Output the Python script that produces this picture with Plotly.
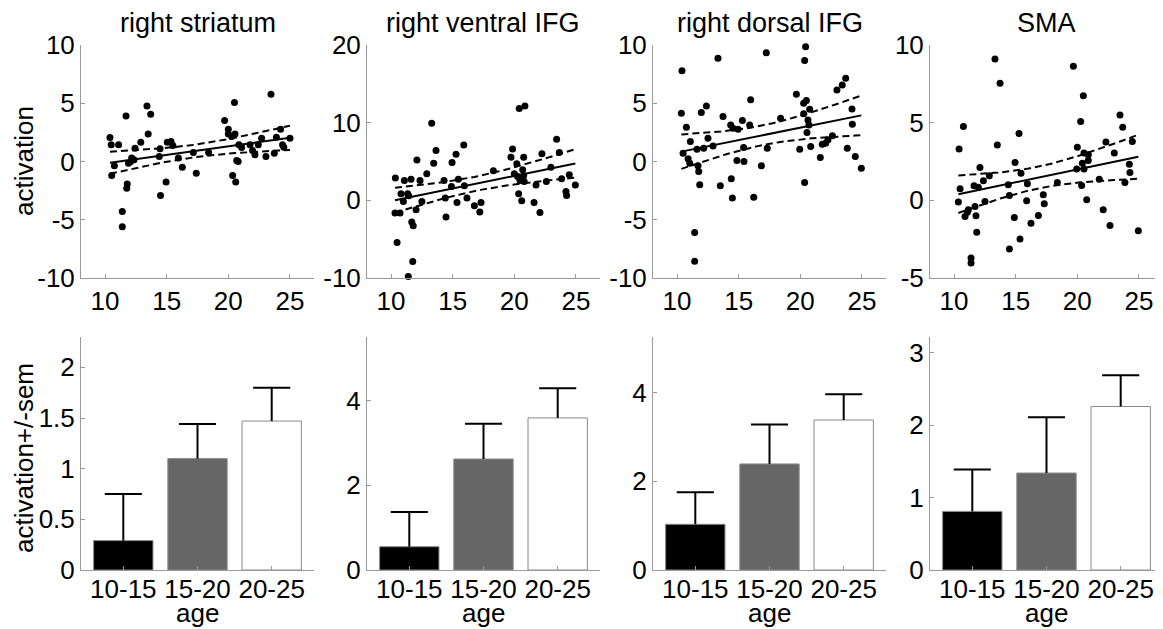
import numpy as np
import plotly.graph_objects as go

# page has an 8px body margin; the figure is sized so that it fills the window exactly
OFF = 8
W, H = 1163 - OFF, 629 - OFF

titles = ["right striatum", "right ventral IFG", "right dorsal IFG", "SMA"]

# ---------------- scatter data (age, activation) ----------------
striatum_age = [10.4, 10.5, 11.1, 10.54, 10.76, 11.7, 11.4, 11.4, 11.8, 11.76, 11.9, 12.16, 12.35, 12.43,
                12.9, 13.4, 13.7, 13.5, 14.4, 14.46, 14.5, 14.95, 15.05, 15.35, 15.5, 15.95, 16.27, 17.16,
                17.4, 18.4, 19.7, 20.0, 20.0, 20.27, 20.5, 20.54, 20.35, 20.6, 20.68, 20.8, 20.86, 21.08,
                21.76, 21.97, 22.16, 22.43, 22.7, 23.05, 23.46, 23.73, 23.9, 24.24, 24.4, 24.5, 25.0, 12.08]
striatum_act = [2.06, 1.43, 1.43, -1.2, -0.37, 3.9, -4.3, -5.6, -1.94, -2.29, -0.14, 0.29, 0.14, 1.14,
                1.66, 4.77, 4.06, 2.37, 0.43, 1.09, -2.91, -1.77, 1.66, 1.71, 1.37, 0.29, -0.49, 0.77,
                -1.0, 0.77, 3.51, 2.77, 2.37, 2.14, 5.06, 2.37, -1.2, -1.77, 0.09, 0.0, 1.43, 1.2,
                1.43, 0.94, 0.57, 1.43, 2.0, 0.43, 5.77, 0.71, 2.09, 2.77, 1.43, 1.23, 2.0, 0.0]

vifg_age = [10.35, 10.32, 10.49, 10.73, 10.81, 11.0, 11.08, 11.35, 11.43, 11.4, 11.62, 11.68, 11.8, 11.76,
            12.03, 12.1, 12.35, 12.5, 12.9, 13.3, 13.46, 13.65, 14.3, 14.4, 14.46, 14.9, 14.95, 15.27,
            15.35, 15.46, 15.9, 15.95, 16.16, 16.76, 17.2, 17.3, 18.3, 19.73, 19.86, 20.0, 20.2, 20.27,
            20.35, 20.4, 20.46, 20.6, 20.68, 20.76, 20.8, 20.86, 20.76, 21.6, 21.76, 22.08, 22.24, 22.6,
            22.97, 23.43, 23.65, 23.84, 24.19, 24.24, 24.46, 24.95]
vifg_act = [2.86, -1.64, -5.43, -1.64, 0.84, -0.14, 2.56, 0.84, 0.59, -9.8, 2.73, -2.8, -3.27, -7.87,
            -1.2, 5.2, 2.56, -0.14, 3.42, 9.93, 4.79, 6.42, 2.56, 0.29, -2.16, 1.79, 4.87, 5.94,
            -0.27, 2.73, 7.14, 1.88, 0.29, -0.7, -1.51, -0.27, 3.8, 5.56, 6.6, 3.42, 4.7, 3.07,
            0.84, 11.84, 2.56, -0.06, 3.93, 3.16, 2.43, 12.14, 5.54, -0.27, 1.99, -1.56, 5.99, 2.43,
            4.27, 7.87, 6.16, 2.77, 1.14, 0.63, 3.29, 1.99]

difg_age = [10.4, 10.35, 10.49, 10.76, 10.9, 11.03, 11.08, 11.43, 11.43, 11.62, 11.7, 11.76, 11.84, 11.97,
            12.16, 12.38, 12.51, 12.92, 13.32, 13.51, 13.73, 14.4, 14.35, 14.49, 14.54, 14.86, 14.95, 15.3,
            15.4, 15.43, 15.89, 15.97, 16.22, 16.84, 17.24, 17.32, 18.4, 19.68, 19.95, 20.27, 20.27, 20.35,
            20.35, 20.43, 20.49, 20.54, 20.62, 20.76, 20.7, 20.84, 21.62, 21.78, 22.05, 22.24, 22.6, 22.97,
            23.4, 23.68, 23.81, 24.19, 24.22, 24.46, 24.95]
difg_act = [7.8, 4.14, 0.71, 2.94, 0.23, -0.14, 1.71, -6.09, -8.57, 1.06, -0.37, -0.86, -2.0, 4.2,
            1.14, 4.77, 2.0, 1.34, 8.86, -2.09, 3.86, -1.49, 3.14, -3.14, 2.86, 0.09, 2.77, 3.51,
            1.2, 0.0, 3.14, 5.29, -3.06, -0.37, 9.34, 1.14, 3.71, 5.77, 1.06, 4.09, 5.0, -1.8,
            8.66, 9.86, 5.23, 2.49, 3.57, 4.49, 3.14, 1.29, 0.34, 1.49, 1.57, 1.86, 2.2, 6.14,
            6.57, 7.14, 1.14, 4.51, 3.2, 0.43, -0.57]

sma_age = [10.41, 10.35, 10.49, 10.76, 10.89, 11.08, 11.16, 11.38, 11.38, 11.62, 11.78, 11.84, 11.7, 11.97,
           12.1, 12.38, 12.51, 12.86, 13.32, 13.51, 13.73, 14.4, 14.49, 14.49, 14.89, 14.95, 15.27, 15.35,
           15.43, 15.89, 15.95, 16.24, 16.84, 17.24, 17.32, 18.38, 19.68, 19.95, 20.0, 20.27, 20.35, 20.41,
           20.49, 20.54, 20.54, 20.76, 20.89, 20.89, 21.78, 22.1, 22.32, 22.65, 23.0, 23.46, 23.68, 23.86,
           24.22, 24.27, 24.46, 24.95]
sma_act = [3.31, -0.11, 0.74, 4.75, -1.04, -0.76, -0.61, -3.72, -4.04, 0.94, -0.99, -2.06, -0.39, 0.85,
           2.11, 1.26, -0.07, 1.58, 9.1, 3.57, 7.53, 1.0, -3.14, 0.31, -1.1, 2.43, 4.3, -2.49,
           1.75, -0.03, 1.07, -1.47, -0.97, 0.36, -0.22, 1.15, 8.63, 2.01, 3.42, 5.07, 0.96, 2.39,
           6.74, 2.01, 3.04, 0.04, 2.93, 2.56, 1.36, -0.61, 3.75, -1.62, 3.04, 5.5, 4.71, 1.15,
           2.33, 1.79, 3.78, -1.96]

scatter_sets = [(striatum_age, striatum_act), (vifg_age, vifg_act),
                (difg_age, difg_act), (sma_age, sma_act)]
scatter_yticks = [[-10, -5, 0, 5, 10], [-10, 0, 10, 20], [-10, -5, 0, 5, 10], [-5, 0, 5, 10]]
scatter_yrange = [[-10, 10], [-10, 20], [-10, 10], [-5, 10]]
scatter_xticks = [10, 15, 20, 25]
T_CRIT = 2.0

# ---------------- bar data ----------------
age_groups = ["10-15", "15-20", "20-25"]
bar_means = [[0.29, 1.10, 1.47], [0.55, 2.62, 3.59], [1.03, 2.39, 3.38], [0.81, 1.34, 2.26]]
bar_tops = [[0.75, 1.44, 1.80], [1.37, 3.45, 4.29], [1.75, 3.28, 3.96], [1.39, 2.11, 2.69]]
bar_yticks = [[0, 0.5, 1, 1.5, 2], [0, 2, 4], [0, 2, 4], [0, 1, 2, 3]]
bar_ytext = [["0", "0.5", "1", "1.5", "2"], ["0", "2", "4"], ["0", "2", "4"], ["0", "1", "2", "3"]]
bar_yrange = [[0, 2.3], [0, 5.5], [0, 5.25], [0, 3.22]]
bar_colors = ["#000000", "#666666", "#ffffff"]
CAP_HALF = 0.25   # half width of error-bar caps, in category units

# ---------------- layout geometry (window pixels) ----------------
cols = [(81, 314), (367, 600), (653, 886), (930, 1163)]
rows = [(45, 278), (337, 570)]

FONT = "Liberation Sans, Arial, sans-serif"
AX = "#9a9a9a"


def px_x(p):
    return (p - OFF) / W


def px_y(p):
    return 1 - (p - OFF) / H


def xdom(c):
    return [px_x(cols[c][0]), min(1.0, px_x(cols[c][1]))]


def ydom(r):
    return [px_y(rows[r][1]), px_y(rows[r][0])]


def hyphen_labels(vals):
    return [str(v).replace("\u2212", "-") for v in vals]


fig = go.Figure()
layout = dict(width=W, height=H, autosize=False, margin=dict(l=0, r=0, t=0, b=0, pad=0),
              paper_bgcolor="white", plot_bgcolor="white", showlegend=False,
              font=dict(family=FONT, size=26, color="black"))
annotations = []

base_axis = dict(showline=True, linecolor=AX, linewidth=1, showgrid=False, zeroline=False,
                 ticks="inside", tickcolor=AX, ticklen=4, tickwidth=1, automargin=False,
                 tickfont=dict(family=FONT, size=26, color="black"))

for i in range(4):
    # ---- scatter panel ----
    idx = 2 * i + 1
    xa = "x" if idx == 1 else f"x{idx}"
    ya = "y" if idx == 1 else f"y{idx}"
    ages, acts = scatter_sets[i]
    x = np.array(ages)
    y = np.array(acts)
    fig.add_trace(go.Scatter(x=x, y=y, mode="markers", xaxis=xa, yaxis=ya,
                             marker=dict(color="black", size=7), cliponaxis=False))
    b1, b0 = np.polyfit(x, y, 1)
    n = len(x)
    resid = y - (b0 + b1 * x)
    s = np.sqrt(np.sum(resid ** 2) / (n - 2))
    xm = x.mean()
    sxx = np.sum((x - xm) ** 2)
    xg = np.linspace(x.min(), x.max(), 60)
    yg = b0 + b1 * xg
    hw = T_CRIT * s * np.sqrt(1 / n + (xg - xm) ** 2 / sxx)
    fig.add_trace(go.Scatter(x=xg, y=yg, mode="lines", xaxis=xa, yaxis=ya,
                             line=dict(color="black", width=2)))
    for sign in (1, -1):
        fig.add_trace(go.Scatter(x=xg, y=yg + sign * hw, mode="lines", xaxis=xa, yaxis=ya,
                                 line=dict(color="black", width=2, dash="7px,4px")))
    layout["xaxis" if idx == 1 else f"xaxis{idx}"] = dict(
        base_axis, domain=xdom(i), range=[8.05, 26.95], tickvals=scatter_xticks,
        ticktext=hyphen_labels(scatter_xticks), anchor=ya)
    layout["yaxis" if idx == 1 else f"yaxis{idx}"] = dict(
        base_axis, domain=ydom(0), range=scatter_yrange[i], tickvals=scatter_yticks[i],
        ticktext=hyphen_labels(scatter_yticks[i]), anchor=xa)
    annotations.append(dict(text=titles[i], x=(px_x(cols[i][0]) + px_x(cols[i][1])) / 2,
                            y=ydom(0)[1], xref="paper", yref="paper", xanchor="center",
                            yanchor="bottom", yshift=5, showarrow=False,
                            font=dict(family=FONT, size=27)))

    # ---- bar panel ----
    idx = 2 * i + 2
    xa = f"x{idx}"
    ya = f"y{idx}"
    means = bar_means[i]
    tops = bar_tops[i]
    cats = [1, 2, 3]
    fig.add_trace(go.Bar(x=cats, y=means, xaxis=xa, yaxis=ya, width=0.8,
                         marker=dict(color=bar_colors, line=dict(color="#8a8a8a", width=1))))
    ex, ey = [], []
    for c, m, t in zip(cats, means, tops):
        ex += [c, c, None, c - CAP_HALF, c + CAP_HALF, None]
        ey += [m, t, None, t, t, None]
    fig.add_trace(go.Scatter(x=ex, y=ey, mode="lines", xaxis=xa, yaxis=ya,
                             line=dict(color="black", width=2), cliponaxis=False))
    layout[f"xaxis{idx}"] = dict(
        base_axis, domain=xdom(i), range=[0.43, 3.57], tickvals=cats,
        ticktext=age_groups, anchor=ya, ticklabelstandoff=-4)
    layout[f"yaxis{idx}"] = dict(
        base_axis, domain=ydom(1), range=bar_yrange[i], tickvals=bar_yticks[i],
        ticktext=bar_ytext[i], anchor=xa)
    annotations.append(dict(text="age", x=(px_x(cols[i][0]) + px_x(cols[i][1])) / 2,
                            y=0, xref="paper", yref="paper", xanchor="center",
                            yanchor="bottom", yshift=0, showarrow=False, borderpad=0,
                            font=dict(family=FONT, size=26)))

annotations.append(dict(text="activation", x=px_x(24), y=px_y(161), xref="paper", yref="paper",
                        xanchor="center", yanchor="middle", textangle=-90, showarrow=False,
                        font=dict(family=FONT, size=26)))
annotations.append(dict(text="activation+/-sem", x=px_x(24), y=px_y(458), xref="paper",
                        yref="paper", xanchor="center", yanchor="middle", textangle=-90,
                        showarrow=False, font=dict(family=FONT, size=26)))
layout["annotations"] = annotations
fig.update_layout(**layout)

fig.write_html("out.html")
